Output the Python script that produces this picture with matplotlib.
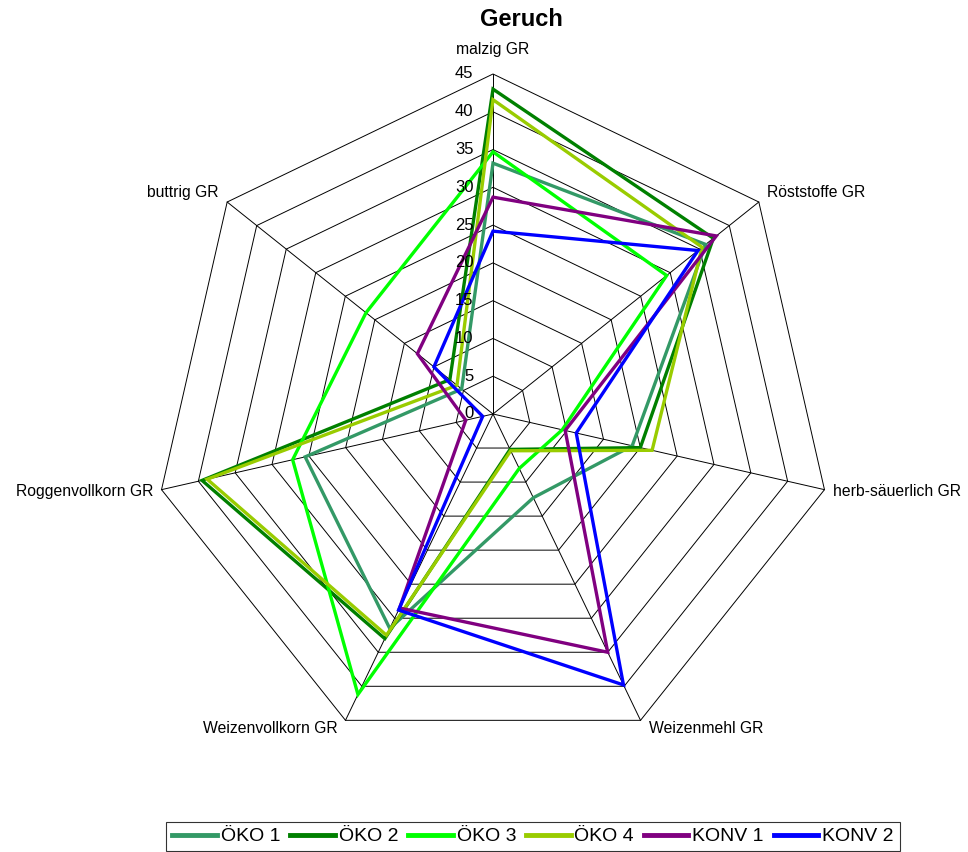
import numpy as np
import matplotlib
matplotlib.use("Agg")
import matplotlib.pyplot as plt
from matplotlib.patches import Polygon
from matplotlib.lines import Line2D

plt.rcParams['font.family'] = ['Liberation Sans', 'DejaVu Sans']

# categories, clockwise from the top
categories = ['malzig GR', 'Röststoffe GR', 'herb-säuerlich GR', 'Weizenmehl GR',
              'Weizenvollkorn GR', 'Roggenvollkorn GR', 'buttrig GR']

series_names = ['ÖKO 1', 'ÖKO 2', 'ÖKO 3', 'ÖKO 4', 'KONV 1', 'KONV 2']
oeko1 = [33.2, 36.0, 18.9, 12.3, 31.5, 25.5, 5.3]
oeko2 = [43.0, 37.3, 20.0, 5.2, 33.0, 39.5, 7.3]
oeko3 = [34.7, 29.4, 9.4, 8.0, 41.2, 27.2, 21.5]
oeko4 = [41.6, 35.4, 21.6, 5.4, 32.5, 38.8, 6.1]
konv1 = [28.7, 37.8, 9.8, 35.0, 28.5, 3.7, 12.8]
konv2 = [24.2, 34.7, 11.3, 39.8, 28.8, 1.4, 10.0]
series_values = [oeko1, oeko2, oeko3, oeko4, konv1, konv2]
series_colors = ['#339966', '#008000', '#00FF00', '#99CC00', '#800080', '#0000FF']

ticks = [0, 5, 10, 15, 20, 25, 30, 35, 40, 45]
rmax = 45

# figure in pixels: 968 x 852, chart centre at (493, 414), 45 -> 340 px
W, H = 968, 852
cx, cy = 493, 414
scale = 340 / rmax

fig = plt.figure(figsize=(W / 100, H / 100), dpi=100)
ax = fig.add_axes((0, 0, 1, 1))
ax.set_xlim(-cx / scale, (W - cx) / scale)
ax.set_ylim(-(H - cy) / scale, cy / scale)
ax.axis('off')

n = len(categories)
angles = np.arange(n) * 2 * np.pi / n
dx = np.sin(angles)
dy = np.cos(angles)

# polygon grid rings
for t in ticks[1:]:
    ring = Polygon(np.column_stack([t * dx, t * dy]), closed=True, fill=False,
                   edgecolor='black', lw=0.7, zorder=1)
    ax.add_patch(ring)
# spokes
for i in range(n):
    ax.plot([0, rmax * dx[i]], [0, rmax * dy[i]], color='black', lw=0.7, zorder=1)

# tick labels on the top axis
for t in ticks:
    ax.text(-2.6, t, str(t), ha='right', va='center', fontsize=12, zorder=3)

# category labels
fs = 11.3
for i, cat in enumerate(categories):
    x, y = rmax * dx[i], rmax * dy[i]
    if i == 0:
        ax.text(x, y + 3.2, cat, ha='center', va='center', fontsize=fs)
    elif i in (1, 2):
        ax.text(x + 1.1, y + 1.2 if i == 1 else y - 0.3, cat, ha='left', va='center', fontsize=fs)
    elif i == 3:
        ax.text(x + 1.1, y - 1.1, cat, ha='left', va='center', fontsize=fs)
    elif i == 4:
        ax.text(x - 1.1, y - 1.1, cat, ha='right', va='center', fontsize=fs)
    else:
        ax.text(x - 1.1, y + 1.2 if i == 6 else y - 0.3, cat, ha='right', va='center', fontsize=fs)

# data series
handles = []
for name, vals, col in zip(series_names, series_values, series_colors):
    v = np.array(vals)
    poly = Polygon(np.column_stack([v * dx, v * dy]), closed=True, fill=False,
                   edgecolor=col, lw=2.4, zorder=2, joinstyle='miter')
    ax.add_patch(poly)
    handles.append(Line2D([], [], color=col, lw=3.5, label=name))

fig.text(521 / W, 1 - 20 / H, 'Geruch', ha='center', va='center',
         fontsize=17, fontweight='bold')

leg = fig.legend(handles=handles, loc='upper center', bbox_to_anchor=(533 / W, 1 - 822 / H),
                 ncol=6, fontsize=14, frameon=True, fancybox=False, edgecolor='black',
                 handlelength=2.3, handletextpad=0.2, columnspacing=0.5,
                 borderpad=0.3, borderaxespad=0)
leg.get_frame().set_linewidth(0.8)

fig.savefig('out.png', dpi=100)
